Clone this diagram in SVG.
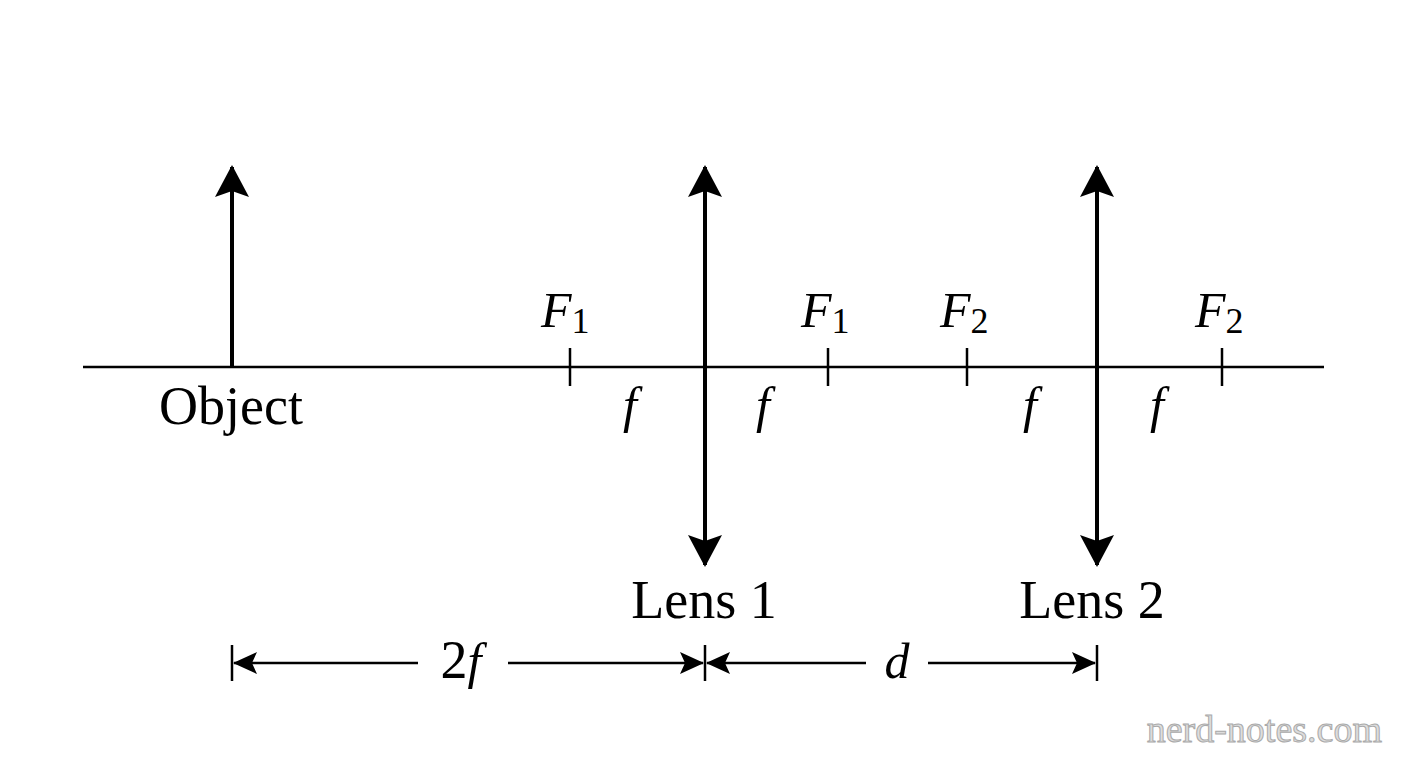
<svg xmlns="http://www.w3.org/2000/svg" width="1408" height="768" viewBox="0 0 1408 768">
<style>
.t{font-family:"Liberation Serif","DejaVu Serif",serif;font-size:54px;fill:#000}
.i{font-style:italic;font-size:50px}
.s{font-size:36px}
.ln{stroke:#000;stroke-width:2.5;fill:none}
.th{stroke:#000;stroke-width:4;fill:none}
</style>
<defs>
<marker id="ah" viewBox="0 0 32 34" refX="30" refY="17" markerWidth="32" markerHeight="34" markerUnits="userSpaceOnUse" orient="auto">
<path d="M32,17 L0,0 L6,17 L0,34 Z" fill="#000"/>
</marker>
<marker id="as" viewBox="0 0 24 24" refX="23" refY="12" markerWidth="24" markerHeight="24" markerUnits="userSpaceOnUse" orient="auto">
<path d="M24,12 L0,1 L5,12 L0,23 Z" fill="#000"/>
</marker>
</defs>
<rect width="1408" height="768" fill="#fff"/>
<g id="connectors">
<line class="ln" x1="83" y1="367" x2="1324" y2="367"/>
<line class="ln" x1="570" y1="348" x2="570" y2="386"/>
<line class="ln" x1="828" y1="348" x2="828" y2="386"/>
<line class="ln" x1="967" y1="348" x2="967" y2="386"/>
<line class="ln" x1="1222" y1="348" x2="1222" y2="386"/>
<line class="ln" x1="232" y1="645" x2="232" y2="681"/>
<line class="ln" x1="705" y1="645" x2="705" y2="681"/>
<line class="ln" x1="1097" y1="645" x2="1097" y2="681"/>
<line class="ln" x1="418" y1="663" x2="234" y2="663" marker-end="url(#as)"/>
<line class="ln" x1="508" y1="663" x2="703" y2="663" marker-end="url(#as)"/>
<line class="ln" x1="866" y1="663" x2="707" y2="663" marker-end="url(#as)"/>
<line class="ln" x1="928" y1="663" x2="1095" y2="663" marker-end="url(#as)"/>
</g>
<g id="object">
<line class="th" x1="232" y1="367" x2="232" y2="167" marker-end="url(#ah)"/>
<text class="t" x="231" y="424" text-anchor="middle">Object</text>
</g>
<g id="lens1">
<line class="th" x1="705" y1="366" x2="705" y2="167" marker-end="url(#ah)"/>
<line class="th" x1="705" y1="366" x2="705" y2="565" marker-end="url(#ah)"/>
<text class="t" x="704" y="618" text-anchor="middle">Lens 1</text>
</g>
<g id="lens2">
<line class="th" x1="1097" y1="366" x2="1097" y2="167" marker-end="url(#ah)"/>
<line class="th" x1="1097" y1="366" x2="1097" y2="565" marker-end="url(#ah)"/>
<text class="t" x="1092" y="618" text-anchor="middle">Lens 2</text>
</g>
<g id="labels">
<text class="t i" x="541" y="327">F<tspan class="s" dy="6" font-style="normal">1</tspan></text>
<text class="t i" x="801" y="327">F<tspan class="s" dy="6" font-style="normal">1</tspan></text>
<text class="t i" x="940" y="327">F<tspan class="s" dy="6" font-style="normal">2</tspan></text>
<text class="t i" x="1195" y="327">F<tspan class="s" dy="6" font-style="normal">2</tspan></text>
<text class="t i" x="630" y="422" text-anchor="middle">f</text>
<text class="t i" x="763" y="422" text-anchor="middle">f</text>
<text class="t i" x="1030" y="422" text-anchor="middle">f</text>
<text class="t i" x="1157" y="422" text-anchor="middle">f</text>
<text class="t" x="461" y="678" text-anchor="middle">2<tspan class="i">f</tspan></text>
<text class="t i" x="897" y="678" text-anchor="middle">d</text>
</g>
<text x="1382" y="742" text-anchor="end" font-family="Liberation Serif,serif" font-size="38" fill="#ddd" stroke="#aaa" stroke-width="1">nerd-notes.com</text>
</svg>
